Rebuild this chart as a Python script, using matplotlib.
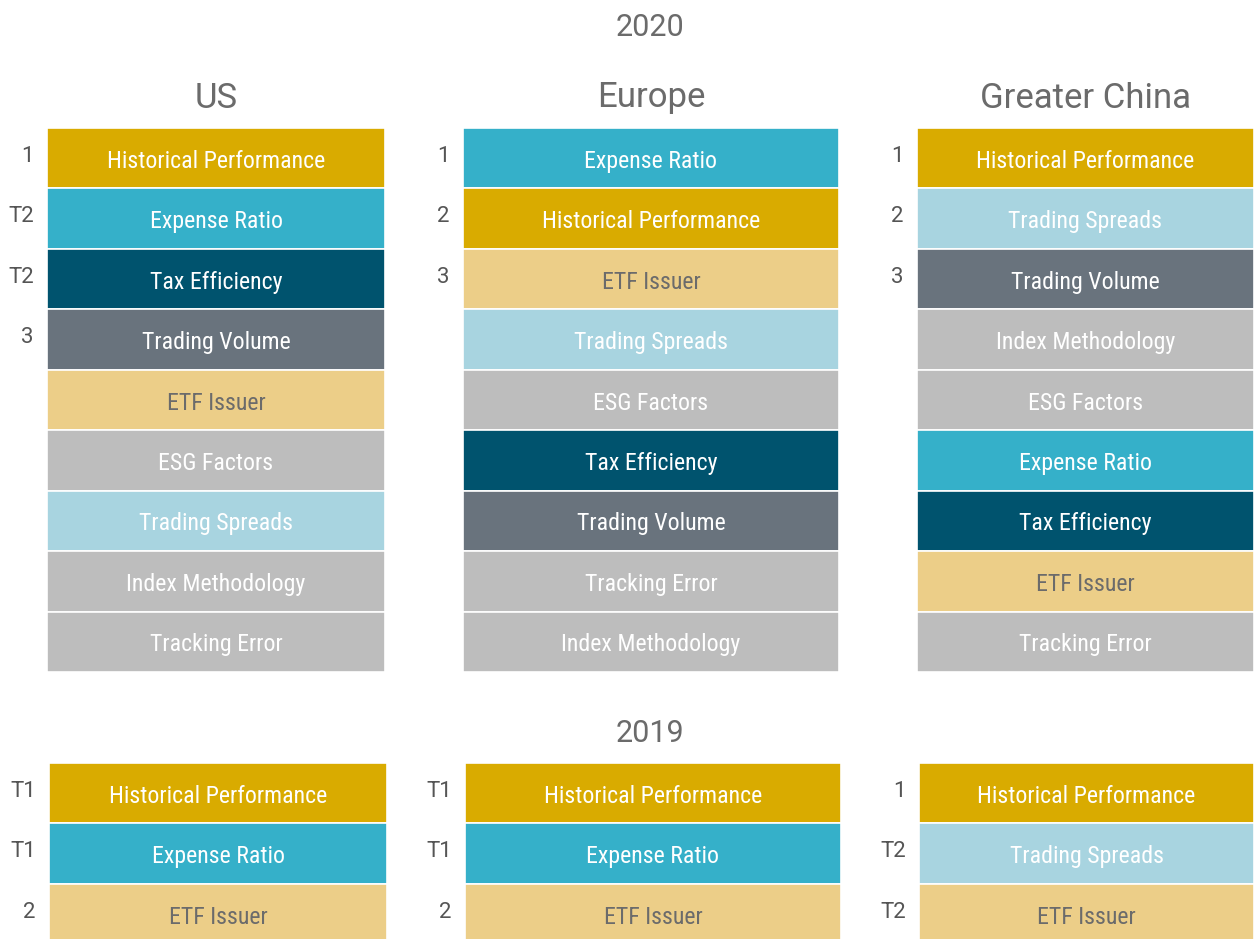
import matplotlib
matplotlib.use("Agg")
import matplotlib.pyplot as plt

# Data
regions = ["US", "Europe", "Greater China"]

us_2020 = ["Historical Performance", "Expense Ratio", "Tax Efficiency", "Trading Volume",
           "ETF Issuer", "ESG Factors", "Trading Spreads", "Index Methodology", "Tracking Error"]
us_2020_rank = ["1", "T2", "T2", "3", "", "", "", "", ""]

eu_2020 = ["Expense Ratio", "Historical Performance", "ETF Issuer", "Trading Spreads",
           "ESG Factors", "Tax Efficiency", "Trading Volume", "Tracking Error", "Index Methodology"]
eu_2020_rank = ["1", "2", "3", "", "", "", "", "", ""]

cn_2020 = ["Historical Performance", "Trading Spreads", "Trading Volume", "Index Methodology",
           "ESG Factors", "Expense Ratio", "Tax Efficiency", "ETF Issuer", "Tracking Error"]
cn_2020_rank = ["1", "2", "3", "", "", "", "", "", ""]

us_2019 = ["Historical Performance", "Expense Ratio", "ETF Issuer"]
us_2019_rank = ["T1", "T1", "2"]
eu_2019 = ["Historical Performance", "Expense Ratio", "ETF Issuer"]
eu_2019_rank = ["T1", "T1", "2"]
cn_2019 = ["Historical Performance", "Trading Spreads", "ETF Issuer"]
cn_2019_rank = ["1", "T2", "T2"]

# Styles
colors = {
    "Historical Performance": "#D9AB00",
    "Expense Ratio": "#35B0C9",
    "Tax Efficiency": "#00536E",
    "Trading Volume": "#69737D",
    "ETF Issuer": "#ECCE88",
    "ESG Factors": "#BDBDBD",
    "Index Methodology": "#BDBDBD",
    "Tracking Error": "#BDBDBD",
    "Trading Spreads": "#A8D4E0",
}
dark_text = {"ETF Issuer"}

narrow = "Roboto Condensed"
title_font = "Roboto"
grey = "#6B6B6B"

W, H = 1254, 939
row_h = 60.45
fig = plt.figure(figsize=(W / 100, H / 100), dpi=100)


def panel(left, right, top, names, ranks):
    n = len(names)
    ax = fig.add_axes([left / W, 1 - (top + n * row_h) / H, (right - left) / W, n * row_h / H])
    ys = list(range(n))
    ax.barh(ys, [1] * n, height=1, left=0, color=[colors[s] for s in names],
            edgecolor="white", linewidth=1.2)
    ax.set_xlim(0, 1)
    ax.set_ylim(n - 0.5, -0.5)
    ax.axis("off")
    for y, name, rk in zip(ys, names, ranks):
        ax.annotate(name, xy=(0.5, y), xytext=(0, -3), textcoords="offset pixels",
                    ha="center", va="center", fontsize=17.2, family=narrow,
                    color=grey if name in dark_text else "white")
        if rk:
            ax.annotate(rk, xy=(0, y), xytext=(-13, 2), textcoords="offset pixels",
                        ha="right", va="center", fontsize=16, family=title_font, color="#555555")
    return ax


panel(47, 385, 128, us_2020, us_2020_rank)
panel(463, 839, 128, eu_2020, eu_2020_rank)
panel(917, 1254, 128, cn_2020, cn_2020_rank)

panel(49, 387, 763, us_2019, us_2019_rank)
panel(465, 841, 763, eu_2019, eu_2019_rank)
panel(919, 1254, 763, cn_2019, cn_2019_rank)

# Titles
fig.text(650 / W, 1 - 28 / H, "2020", ha="center", va="center", fontsize=22, family=title_font, color=grey)
fig.text(650 / W, 1 - 733 / H, "2019", ha="center", va="center", fontsize=22, family=title_font, color=grey)
for xc, reg in zip([216, 651, 1086], regions):
    fig.text(xc / W, 1 - 98 / H, reg, ha="center", va="center", fontsize=25, family=title_font, color=grey)

fig.savefig("out.png", dpi=100)
